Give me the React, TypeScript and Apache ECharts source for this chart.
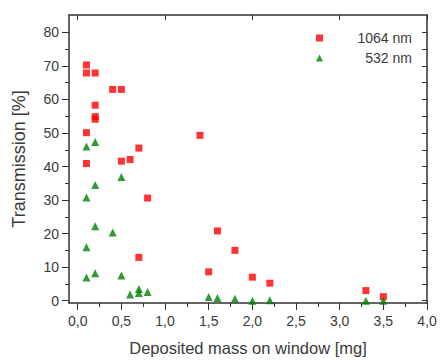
import React, { useEffect, useRef } from "react";
import * as echarts from "echarts";

const mass1064 = [0.1, 0.1, 0.2, 0.4, 0.5, 0.2, 0.2, 0.2, 0.1, 1.4, 0.7, 0.6, 0.5, 0.1, 0.8, 0.7, 1.5, 1.6, 1.8, 2.0, 2.2, 3.3, 3.5];
const trans1064 = [70.3, 67.9, 67.9, 63.0, 63.0, 58.3, 54.9, 54.1, 50.1, 49.3, 45.5, 42.1, 41.6, 40.9, 30.6, 12.9, 8.6, 20.8, 15.0, 7.0, 5.2, 3.0, 1.2];

const mass532 = [0.1, 0.2, 0.5, 0.2, 0.1, 0.2, 0.4, 0.1, 0.1, 0.2, 0.5, 0.6, 0.7, 0.7, 0.8, 1.5, 1.6, 1.8, 2.0, 2.2, 3.3, 3.5];
const trans532 = [46.0, 47.3, 36.9, 34.5, 30.8, 22.2, 20.3, 15.9, 6.9, 8.2, 7.5, 1.8, 3.5, 2.3, 2.6, 1.1, 0.8, 0.6, 0.0, 0.1, 0.0, 0.0];

const xMajorTicks = [0, 0.5, 1.0, 1.5, 2.0, 2.5, 3.0, 3.5, 4.0];
const xMinorTicks = [0.25, 0.75, 1.25, 1.75, 2.25, 2.75, 3.25, 3.75];
const xTopTicks = [0, 1, 2, 3, 4];
const yMajorTicks = [0, 10, 20, 30, 40, 50, 60, 70, 80];
const yMinorTicks = [5, 15, 25, 35, 45, 55, 65, 75];
const yRightTicks = [0, 5, 10, 15, 20, 25, 30, 35, 40, 45, 50, 55, 60, 65, 70, 75, 80];

const seriesNames = ["1064 nm", "532 nm"];

const X_MIN = -0.1;
const X_MAX = 4.0;
const Y_MIN = -0.7;
const Y_MAX = 85.2;

const AXIS_COLOR = "#333333";
const LABEL_COLOR = "#3a3a3a";
const FONT = "Liberation Sans, Arial, sans-serif";

export default function App() {
  const ref = useRef<HTMLDivElement>(null);

  useEffect(() => {
    if (!ref.current) return;
    const chart = echarts.init(ref.current, undefined, { renderer: "svg" });

    const hiddenLine = { show: false, onZero: false };
    const shownLine = { show: true, onZero: false, lineStyle: { color: AXIS_COLOR, width: 1.5 } };
    const baseX = { type: "value", min: X_MIN, max: X_MAX, splitLine: { show: false } };
    const baseY = { type: "value", min: Y_MIN, max: Y_MAX, splitLine: { show: false } };

    chart.setOption({
      animation: false,
      backgroundColor: "#ffffff",
      textStyle: { fontFamily: FONT },
      grid: { left: 69, top: 15, width: 358, height: 290, containLabel: false },
      legend: {
        orient: "vertical",
        left: 316,
        top: 31,
        padding: 0,
        itemWidth: 7,
        itemHeight: 7,
        itemGap: 6,
        data: seriesNames,
        formatter: (name: string) => `{n|${name}}`,
        textStyle: {
          color: LABEL_COLOR,
          fontSize: 14,
          fontFamily: FONT,
          rich: { n: { width: 84, align: "right", fontSize: 14, color: LABEL_COLOR, fontFamily: FONT } },
        },
      },
      xAxis: [
        {
          ...baseX,
          position: "bottom",
          name: "Deposited mass on window [mg]",
          nameLocation: "middle",
          nameGap: 36,
          nameTextStyle: { fontSize: 16.5, color: LABEL_COLOR, fontFamily: FONT },
          axisLine: shownLine,
          axisTick: { show: true, customValues: xMajorTicks, length: 7, inside: false, lineStyle: { color: AXIS_COLOR, width: 1 } },
          axisLabel: {
            show: true,
            customValues: xMajorTicks,
            margin: 11,
            fontSize: 14,
            color: LABEL_COLOR,
            fontFamily: FONT,
            formatter: (v: number) => v.toFixed(1).replace(".", ","),
          },
        },
        {
          ...baseX,
          position: "bottom",
          axisLine: hiddenLine,
          axisTick: { show: true, customValues: xMinorTicks, length: 4, inside: false, lineStyle: { color: AXIS_COLOR, width: 1 } },
          axisLabel: { show: false },
        },
        {
          ...baseX,
          position: "top",
          axisLine: shownLine,
          axisTick: { show: true, customValues: xTopTicks, length: 5, inside: true, lineStyle: { color: AXIS_COLOR, width: 1 } },
          axisLabel: { show: false },
        },
      ],
      yAxis: [
        {
          ...baseY,
          position: "left",
          name: "Transmission [%]",
          nameLocation: "middle",
          nameGap: 41,
          nameTextStyle: { fontSize: 18, color: LABEL_COLOR, fontFamily: FONT },
          axisLine: shownLine,
          axisTick: { show: true, customValues: yMajorTicks, length: 7, inside: false, lineStyle: { color: AXIS_COLOR, width: 1 } },
          axisLabel: {
            show: true,
            customValues: yMajorTicks,
            margin: 10,
            fontSize: 14,
            color: LABEL_COLOR,
            fontFamily: FONT,
          },
        },
        {
          ...baseY,
          position: "left",
          axisLine: hiddenLine,
          axisTick: { show: true, customValues: yMinorTicks, length: 4, inside: false, lineStyle: { color: AXIS_COLOR, width: 1 } },
          axisLabel: { show: false },
        },
        {
          ...baseY,
          position: "right",
          axisLine: shownLine,
          axisTick: { show: true, customValues: yRightTicks, length: 5, inside: true, lineStyle: { color: AXIS_COLOR, width: 1 } },
          axisLabel: { show: false },
        },
      ],
      series: [
        {
          name: seriesNames[0],
          type: "scatter",
          xAxisIndex: 0,
          yAxisIndex: 0,
          symbol: "rect",
          symbolSize: 7,
          itemStyle: { color: "#ff0000" },
          data: mass1064.map((m, i) => [m, trans1064[i]]),
        },
        {
          name: seriesNames[1],
          type: "scatter",
          xAxisIndex: 0,
          yAxisIndex: 0,
          symbol: "triangle",
          symbolSize: 8,
          itemStyle: { color: "#007f00" },
          data: mass532.map((m, i) => [m, trans532[i]]),
        },
      ],
    });

    return () => chart.dispose();
  }, []);

  return (
    <div
      ref={ref}
      style={{ position: "fixed", left: 0, top: 0, width: 440, height: 361, background: "#ffffff" }}
    />
  );
}
